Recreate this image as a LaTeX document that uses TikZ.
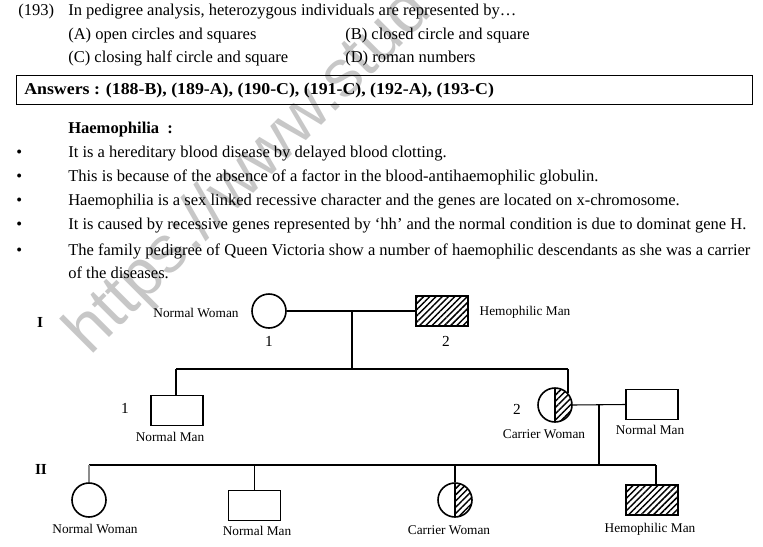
\documentclass[tikz,border=0pt]{standalone}
\usepackage{fontspec}
\setmainfont{Liberation Serif}
\newfontfamily\wmfont{Liberation Sans}
\usetikzlibrary{patterns.meta}
\begin{document}
\begin{tikzpicture}[x=0.75pt,y=-0.75pt,
  body/.style={anchor=base west, inner sep=0, font=\fontsize{12.4}{14}\selectfont},
  bodyb/.style={anchor=base west, inner sep=0, font=\bfseries\fontsize{12.4}{14}\selectfont},
  bul/.style={anchor=base west, inner sep=0, font=\fontsize{12.4}{14}\selectfont},
  lbl/.style={inner sep=0, font=\fontsize{10}{12}\selectfont},
  num/.style={inner sep=0, font=\fontsize{11.5}{13}\selectfont},
  gen/.style={inner sep=0, font=\bfseries\fontsize{11.5}{13}\selectfont},
  hatch/.style={pattern={Lines[angle=45,distance=3.3pt,line width=1.1pt]}},
  male/.style={draw, line width=1.3pt, minimum width=39pt, minimum height=22.5pt, inner sep=0},
  sickmale/.style={male, hatch},
  female/.style={draw, circle, line width=1.2pt, minimum size=25.5pt, inner sep=0},
  carrier/.style={female, path picture={
     \fill[hatch] (path picture bounding box.north) rectangle (path picture bounding box.south east);
     \draw[line width=1pt] (path picture bounding box.north) -- (path picture bounding box.south);}},
  conn/.style={line width=0.8pt}
]
\useasboundingbox (0,0) rectangle (763,546);
\begin{scope}
\clip (0,0) rectangle (763,546);
\node[anchor=base west, rotate=45, inner sep=0, text=black!22, font=\wmfont\fontsize{50}{50}\selectfont] (wm) at (90,357) {https://www.stud};
\end{scope}

% question
\node[body] (qn) at (18,15) {(193)};
\node[body] (qt) at (68,15) {In pedigree analysis, heterozygous individuals are represented by…};
\node[body] (qa) at (68,39) {(A) open circles and squares};
\node[body] (qb) at (345,39) {(B) closed circle and square};
\node[body] (qc) at (68,62) {(C) closing half circle and square};
\node[body] (qd) at (345,62) {(D) roman numbers};

% answers box
\node[draw, line width=0.9pt, anchor=north west, minimum width=552pt, minimum height=21.75pt, inner sep=0] (box) at (16,75) {};
\node[bodyb] (ans) at (24,94) {\scalebox{1.078}[1]{Answers : (188-B), (189-A), (190-C), (191-C), (192-A), (193-C)}};

% haemophilia
\node[bodyb] (hh) at (68,133) {Haemophilia\ \ :};
\foreach \y/\t in {157/{It is a hereditary blood disease by delayed blood clotting.},
                   181/{This is because of the absence of a factor in the blood-antihaemophilic globulin.},
                   205/{Haemophilia is a sex linked recessive character and the genes are located on x-chromosome.},
                   229/{It is caused by recessive genes represented by ‘hh’ and the normal condition is due to dominat gene H.},
                   255/{The family pedigree of Queen Victoria show a number of haemophilic descendants as she was a carrier}}{
  \node[bul] at (16,\y) {•};
  \node[body] at (68,\y) {\t};
}
\node[body] (last) at (68,278) {of the diseases.};

% Generation I
\node[gen] (g1) at (40,322) {I};
\node[female] (w1) at (269,311) {};
\node[sickmale] (m1) at (442,311) {};
\node[lbl] (lw1) at (196,313) {Normal Woman};
\node[lbl] (lm1) at (525,312) {Hemophilic Man};
\node[num] (n1) at (269,341) {1};
\node[num] (n2) at (446,341) {2};
\coordinate (mp1) at (352,311);
\coordinate (sb1) at (352,369);
\coordinate (sl) at (176,369);
\coordinate (sr) at (568,369);
\coordinate (srt) at (568,393);
\draw[conn] (w1.east) -- (m1.west);
\draw[conn] (mp1) -- (sb1);
\draw[conn] (sl) -- (sr);

% Generation I children
\node[male] (s1) at (177,410.5) {};
\node[num] (ns1) at (125,408) {1};
\node[lbl] (ls1) at (170,437) {Normal Man};
\draw[conn] (sl) -- (sl |- s1.north);
\node[carrier] (c1) at (555,405) {};
\node[num] (nc1) at (517,409) {2};
\node[lbl] (lc1) at (544,434) {Carrier Woman};
\draw[conn] (sr) -- (srt);
\node[male] (h1) at (652,404.5) {};
\node[lbl] (lh1) at (650,430) {Normal Man};
\draw[conn] (c1.east) -- (h1.west);
\coordinate (mp2) at (599,405);
\coordinate (sb2) at (599,465);
\draw[conn] (mp2) -- (sb2);

% Generation II
\node[gen] (g2) at (41,469) {II};
\coordinate (tl) at (89,465);
\coordinate (tr) at (656,465);
\draw[conn] (tl) -- (tr);
\node[female] (w2) at (89,500) {};
\node[male] (m3) at (254.5,505.5) {};
\node[carrier] (c2) at (455,500) {};
\node[sickmale] (m4) at (652,500) {};
\draw[conn, black!45] (tl) -- (w2.north);
\draw[conn] (m3.north |- tl) -- (m3.north);
\draw[conn] (c2.north |- tl) -- (c2.north);
\draw[conn] (tr) -- (tr |- m4.north);
\node[lbl] (lw2) at (95,529) {Normal Woman};
\node[lbl] (lm3) at (257,531) {Normal Man};
\node[lbl] (lc2) at (449,530) {Carrier Woman};
\node[lbl] (lm4) at (650,529) {Hemophilic Man};
\end{tikzpicture}
\end{document}
